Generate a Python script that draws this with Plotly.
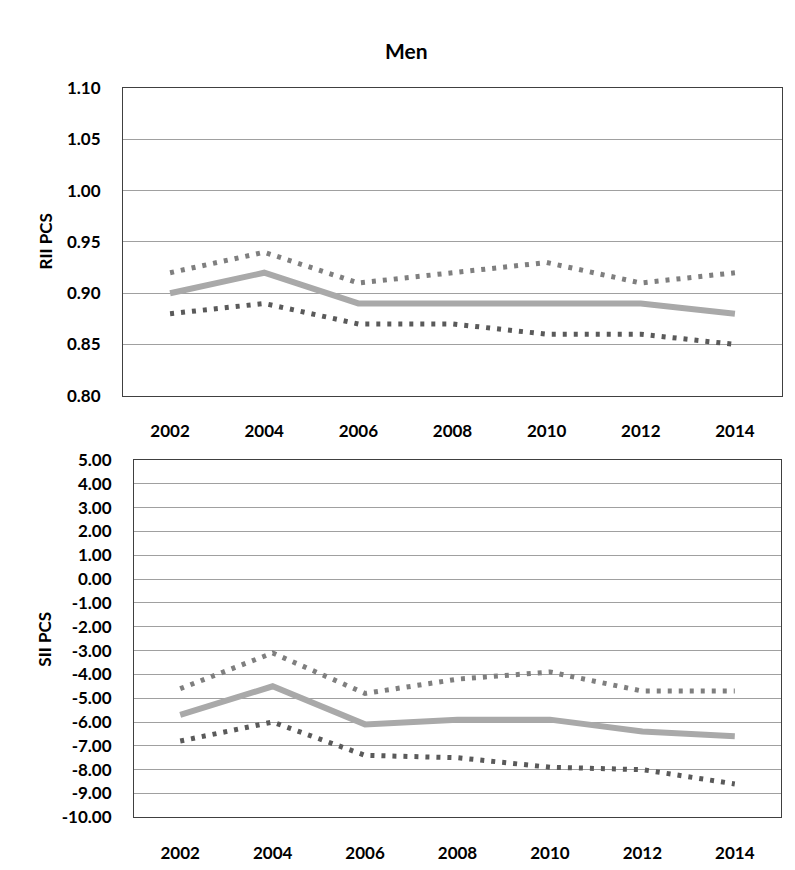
import plotly.graph_objects as go

years = ["2002", "2004", "2006", "2008", "2010", "2012", "2014"]

rii_est = [0.90, 0.92, 0.89, 0.89, 0.89, 0.89, 0.88]
rii_upper = [0.92, 0.94, 0.91, 0.92, 0.93, 0.91, 0.92]
rii_lower = [0.88, 0.89, 0.87, 0.87, 0.86, 0.86, 0.85]

sii_est = [-5.7, -4.5, -6.1, -5.9, -5.9, -6.4, -6.6]
sii_upper = [-4.6, -3.1, -4.8, -4.2, -3.9, -4.7, -4.7]
sii_lower = [-6.8, -6.0, -7.4, -7.5, -7.9, -8.0, -8.6]

rii_ticks = [0.80, 0.85, 0.90, 0.95, 1.00, 1.05, 1.10]
sii_ticks = [5, 4, 3, 2, 1, 0, -1, -2, -3, -4, -5, -6, -7, -8, -9, -10]

FONT = "Lato"
solid_col = "#a9a9a9"
up_col = "#7f7f7f"
lo_col = "#5a5a5a"
dot = "4px,7px"

fig = go.Figure()

def add_set(est, up, lo, xa, ya):
    fig.add_trace(go.Scatter(x=years, y=up, mode="lines", xaxis=xa, yaxis=ya,
                             line=dict(color=up_col, width=5, dash=dot), showlegend=False))
    fig.add_trace(go.Scatter(x=years, y=lo, mode="lines", xaxis=xa, yaxis=ya,
                             line=dict(color=lo_col, width=5, dash=dot), showlegend=False))
    fig.add_trace(go.Scatter(x=years, y=est, mode="lines", xaxis=xa, yaxis=ya,
                             line=dict(color=solid_col, width=6), showlegend=False))

add_set(rii_est, rii_upper, rii_lower, "x", "y")
add_set(sii_est, sii_upper, sii_lower, "x2", "y2")

tickfont = dict(family=FONT, size=17, color="#000000", weight="bold")
axcommon = dict(showline=True, linecolor="#404040", linewidth=1, mirror=True, ticks="",
                tickfont=tickfont, zeroline=False)

fig.update_layout(
    width=795, height=870,
    margin=dict(l=0, r=0, t=0, b=0),
    paper_bgcolor="white", plot_bgcolor="white",
    xaxis=dict(domain=[115/795, 774/795], anchor="y", type="category",
               range=[-0.5, 6.5], showgrid=False, ticklabelstandoff=20, **axcommon),
    yaxis=dict(domain=[(870-386)/870, (870-71)/870], anchor="x", range=[0.80, 1.10],
               tickvals=rii_ticks, ticktext=[f"{v:.2f}" for v in rii_ticks],
               showgrid=True, gridcolor="#a0a0a0", gridwidth=1, ticklabelstandoff=18, **axcommon),
    xaxis2=dict(domain=[126/795, 773/795], anchor="y2", type="category",
                range=[-0.5, 6.5], showgrid=False, ticklabelstandoff=20, **axcommon),
    yaxis2=dict(domain=[52/870, (870-452)/870], anchor="x2", range=[-10, 5],
                tickvals=sii_ticks, ticktext=[f"{v:.2f}" for v in sii_ticks],
                showgrid=True, gridcolor="#a0a0a0", gridwidth=1, ticklabelstandoff=18, **axcommon),
    annotations=[
        dict(text="<b>Men</b>", x=398/795, y=1-32/870, xref="paper", yref="paper",
             showarrow=False, font=dict(family=FONT, size=21, color="#000000"),
             xanchor="center", yanchor="middle"),
        dict(text="<b>RII PCS</b>", x=37/795, y=1-228/870, xref="paper", yref="paper",
             showarrow=False, textangle=-90, font=dict(family=FONT, size=17, color="#000000"),
             xanchor="center", yanchor="middle"),
        dict(text="<b>SII PCS</b>", x=37/795, y=1-636/870, xref="paper", yref="paper",
             showarrow=False, textangle=-90, font=dict(family=FONT, size=17, color="#000000"),
             xanchor="center", yanchor="middle"),
    ],
)

fig.write_html("out.html")
